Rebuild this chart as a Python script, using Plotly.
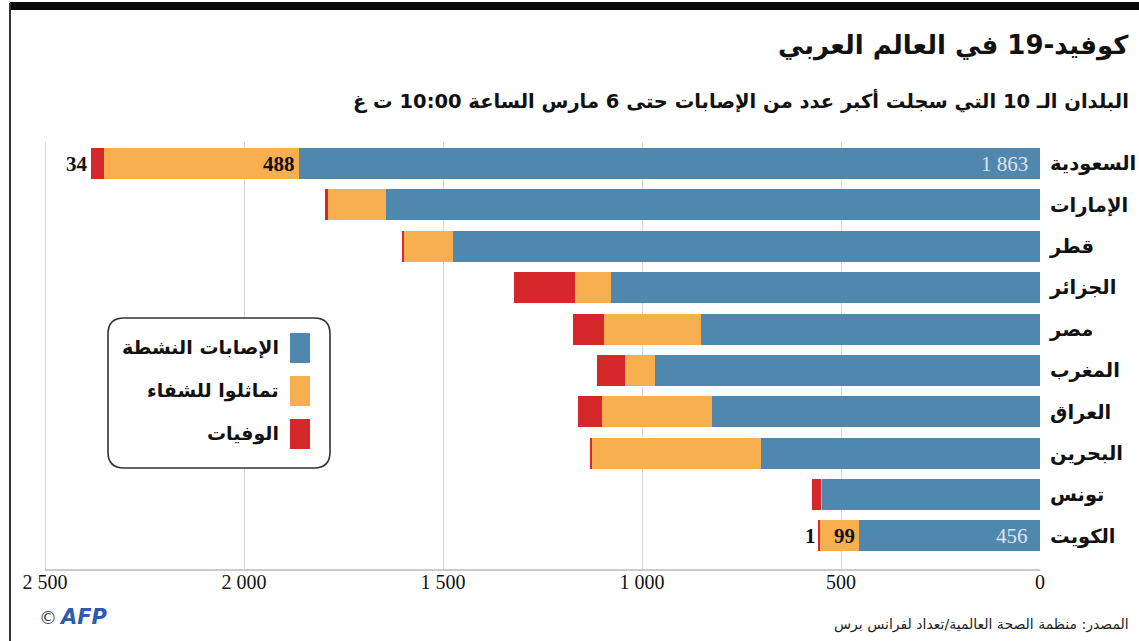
import plotly.graph_objects as go

# ---------------- data ----------------
countries = ["السعودية", "الإمارات", "قطر", "الجزائر", "مصر",
             "المغرب", "العراق", "البحرين", "تونس", "الكويت"]
active = [1863, 1643, 1475, 1078, 852, 967, 824, 701, 548, 456]
recovered = [488, 146, 123, 90, 244, 75, 276, 425, 3, 99]
deaths = [34, 8, 5, 153, 78, 70, 60, 5, 22, 1]
series_names = ["الإصابات النشطة", "تماثلوا للشفاء", "الوفيات"]
colors = ["#5087AF", "#F8AF50", "#D6282A"]
tick_vals = [0, 500, 1000, 1500, 2000, 2500]
tick_text = ["0", "500", "1 000", "1 500", "2 000", "2 500"]
title = "كوفيد-19 في العالم العربي"
subtitle = "البلدان الـ 10 التي سجلت أكبر عدد من الإصابات حتى 6 مارس الساعة 10:00 ت غ"
source = "المصدر: منظمة الصحة العالمية/تعداد لفرانس برس"

# ---------------- layout geometry (pixels) ----------------
W, H = 1139, 641
PL, PR, PT, PB = 45, 1040, 142, 569
AR = "DejaVu Sans"
SERIF = "Liberation Serif"


def px(x):
    return (x - PL) / (PR - PL)


def py(y):
    return (PB - y) / (PB - PT)


fig = go.Figure()
for name, vals, col in zip(series_names, [active, recovered, deaths], colors):
    fig.add_trace(go.Bar(
        y=countries, x=vals, name=name, orientation="h",
        marker=dict(color=col, line=dict(width=0)),
        width=0.75, showlegend=False, hoverinfo="x+y",
    ))

annotations = []
shapes = []

# value labels: first (Saudi) and last (Kuwait) rows
for i in [0, len(countries) - 1]:
    c = countries[i]
    a, r, d = active[i], recovered[i], deaths[i]
    annotations.append(dict(x=0, y=c, xref="x", yref="y", text=f"{a:,}".replace(",", " "),
                            xanchor="right", yanchor="middle", xshift=-10, showarrow=False,
                            font=dict(family=SERIF, size=21, color="#DDE4EB")))
    annotations.append(dict(x=a, y=c, xref="x", yref="y", text=str(r),
                            xanchor="right", yanchor="middle", xshift=-2, showarrow=False,
                            font=dict(family=SERIF, size=21, color="#111111", weight="bold")))
    annotations.append(dict(x=a + r + d, y=c, xref="x", yref="y", text=str(d),
                            xanchor="right", yanchor="middle", xshift=-1, showarrow=False,
                            font=dict(family=SERIF, size=21, color="#111111", weight="bold")))

# title and subtitle
annotations.append(dict(x=px(1131), y=py(46), xref="paper", yref="paper", text=title,
                        xanchor="right", yanchor="middle", showarrow=False,
                        font=dict(family=AR, size=26, color="#111111", weight="bold")))
annotations.append(dict(x=px(1131), y=py(101), xref="paper", yref="paper", text=subtitle,
                        xanchor="right", yanchor="middle", showarrow=False,
                        font=dict(family=AR, size=19.5, color="#111111", weight="bold")))
# source & credit
annotations.append(dict(x=px(1131), y=py(624), xref="paper", yref="paper", text=source,
                        xanchor="right", yanchor="middle", showarrow=False,
                        font=dict(family=AR, size=14, color="#222222")))
annotations.append(dict(x=px(37), y=py(617), xref="paper", yref="paper", text="©",
                        xanchor="left", yanchor="middle", showarrow=False,
                        font=dict(family="DejaVu Sans", size=18, color="#444444")))
annotations.append(dict(x=px(57), y=py(617), xref="paper", yref="paper",
                        text="<i>AFP</i>", xanchor="left", yanchor="middle", showarrow=False,
                        font=dict(family="DejaVu Sans", size=21, color="#2A5DB0", weight="bold")))

# legend box (custom, right-to-left)
bx0, bx1, by0, by1, rad = 108, 330, 318, 468, 16
rx = rad / (PR - PL)
ry = rad / (PB - PT)
X0, X1, Y0, Y1 = px(bx0), px(bx1), py(by1), py(by0)
path = (f"M {X0+rx},{Y0} L {X1-rx},{Y0} Q {X1},{Y0} {X1},{Y0+ry} "
        f"L {X1},{Y1-ry} Q {X1},{Y1} {X1-rx},{Y1} L {X0+rx},{Y1} "
        f"Q {X0},{Y1} {X0},{Y1-ry} L {X0},{Y0+ry} Q {X0},{Y0} {X0+rx},{Y0} Z")
shapes.append(dict(type="path", path=path, xref="paper", yref="paper",
                   line=dict(color="#333333", width=1.6), fillcolor="white", layer="above"))
for k, (name, col) in enumerate(zip(series_names, colors)):
    cy = 348 + 43 * k
    shapes.append(dict(type="rect", xref="paper", yref="paper",
                       x0=px(290), x1=px(310), y0=py(cy + 15), y1=py(cy - 15),
                       fillcolor=col, line=dict(width=0), layer="above"))
    annotations.append(dict(x=px(281), y=py(cy - 1), xref="paper", yref="paper", text=name,
                            xanchor="right", yanchor="middle", showarrow=False,
                            font=dict(family=AR, size=19, color="#111111", weight="bold")))

# frame: thick top bar and left border
shapes.append(dict(type="rect", xref="paper", yref="paper",
                   x0=px(10), x1=px(1139), y0=py(10), y1=py(2),
                   fillcolor="#0a0a0a", line=dict(width=0)))
shapes.append(dict(type="line", xref="paper", yref="paper",
                   x0=px(10), x1=px(10), y0=py(641), y1=py(3),
                   line=dict(color="#333333", width=2)))

fig.update_layout(
    width=W, height=H,
    margin=dict(l=PL, r=W - PR, t=PT, b=H - PB, pad=0, autoexpand=False),
    barmode="stack", bargap=0.25,
    paper_bgcolor="white", plot_bgcolor="white",
    annotations=annotations, shapes=shapes,
    xaxis=dict(range=[2500, 0], tickvals=tick_vals, ticktext=tick_text,
               showgrid=True, gridcolor="#d9d4d4", gridwidth=1, automargin=False,
               zeroline=False, showline=True, linecolor="#cfcaca", linewidth=1.5,
               ticks="", ticklen=0, ticklabelstandoff=-6,
               tickfont=dict(family=SERIF, size=20, color="#111111"),
               mirror=False),
    yaxis=dict(side="right", autorange=False, range=[9.8, -0.52], automargin=False,
               categoryorder="array", categoryarray=countries,
               showgrid=False, zeroline=False, showline=False, ticks="",
               ticklabelstandoff=9,
               tickfont=dict(family=AR, size=19.5, color="#111111", weight="bold")),
)
# left axis line at 2500
fig.add_shape(type="line", xref="x", yref="paper", x0=2500, x1=2500, y0=0, y1=1,
              line=dict(color="#cfcaca", width=1.5))

fig.write_html("out.html", config={"displayModeBar": False},
               post_script="document.body.style.margin='0';document.body.style.overflow='hidden';")
